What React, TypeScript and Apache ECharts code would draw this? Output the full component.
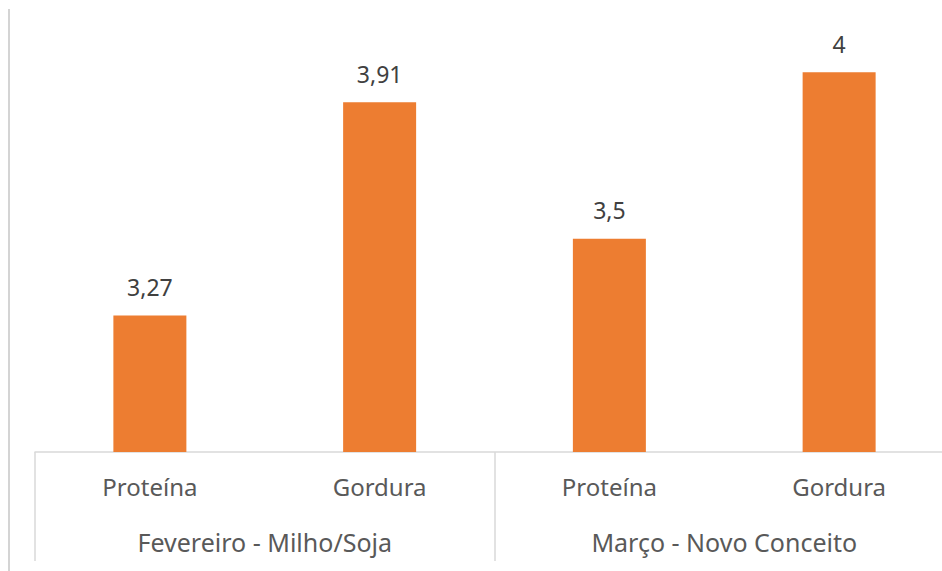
import React, { useEffect, useRef } from "react";
import * as echarts from "echarts";

const categories = ["Proteína", "Gordura", "Proteína", "Gordura"];
const groups = ["Fevereiro - Milho/Soja", "Março - Novo Conceito"];
const values = [3.27, 3.91, 3.5, 4];

export default function App() {
  const ref = useRef<HTMLDivElement>(null);
  useEffect(() => {
    if (!ref.current) return;
    const chart = echarts.init(ref.current, null, { renderer: "svg" });
    const font = "'Noto Sans', 'Open Sans', sans-serif";
    chart.setOption({
      animation: false,
      backgroundColor: "#ffffff",
      grid: {
        left: 35,
        width: 919,
        top: 39,
        height: 413,
        containLabel: false,
        outerBoundsMode: "none",
      },
      xAxis: [
        {
          type: "category",
          data: categories,
          position: "bottom",
          axisLine: { show: true, lineStyle: { color: "#d9d9d9", width: 1.5 } },
          axisTick: { show: false },
          axisLabel: { color: "#595959", fontSize: 24, fontFamily: font, margin: 22 },
        },
        {
          type: "category",
          data: groups,
          position: "bottom",
          axisLine: { show: false },
          axisTick: { show: true, length: 109, alignWithLabel: false, lineStyle: { color: "#d9d9d9", width: 1.5 } },
          axisLabel: { color: "#595959", fontSize: 25, fontFamily: font, margin: 77 },
        },
      ],
      yAxis: {
        type: "value",
        min: 2.86,
        max: 4.1,
        show: false,
        splitLine: { show: false },
      },
      graphic: [
        {
          type: "line",
          shape: { x1: 9, y1: 9, x2: 9, y2: 571 },
          style: { stroke: "#d4d4d4", lineWidth: 2 },
        },
      ],
      series: [
        {
          type: "bar",
          xAxisIndex: 0,
          data: values,
          barWidth: 73,
          itemStyle: { color: "#ED7D31" },
          label: {
            show: true,
            position: "top",
            distance: 17,
            color: "#404040",
            fontSize: 23,
            fontFamily: font,
            formatter: (p: any) => String(p.value).replace(".", ","),
          },
        },
      ],
    });
    return () => chart.dispose();
  }, []);
  return (
    <div
      ref={ref}
      style={{ position: "fixed", left: 0, top: 0, width: 942, height: 571 }}
    />
  );
}
